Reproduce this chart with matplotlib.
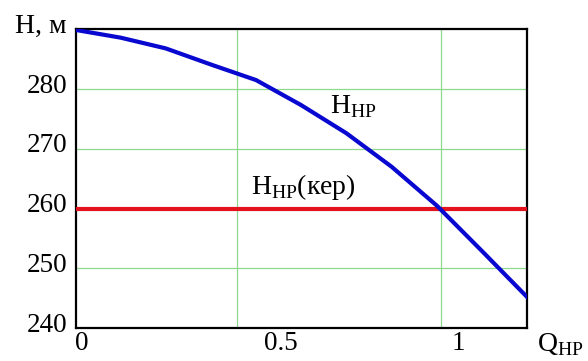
import matplotlib
matplotlib.use("Agg")
import matplotlib.pyplot as plt
import matplotlib.transforms as mtransforms

plt.rcParams['font.family'] = ['Liberation Serif', 'DejaVu Serif']
plt.rcParams['mathtext.fontset'] = 'custom'
plt.rcParams['mathtext.rm'] = 'Liberation Serif'

# Data
q_values = [0.0, 0.12, 0.24, 0.36, 0.48, 0.60, 0.72, 0.84, 0.96, 1.08, 1.2]
h_np = [289.9, 288.6, 286.8, 284.1, 281.5, 277.3, 272.6, 267.0, 260.5, 252.9, 245.2]
h_crit = 260
x_ticks = [0, 0.5, 1]
y_ticks = [240, 250, 260, 270, 280]
grid_x = [0.429, 0.972]
grid_y = [250, 260, 270, 280]

fig = plt.figure(figsize=(5.88, 3.61), dpi=100)
ax = fig.add_axes([75.5/588, 1-328/361, (527-75.5)/588, (328-29.3)/361])

gcol = '#8fd98f'
for gx in grid_x:
    ax.axvline(gx, color=gcol, lw=0.9, zorder=1)
for gy in grid_y:
    ax.axhline(gy, color=gcol, lw=0.9, zorder=1)

ax.plot([0, 1.2], [h_crit, h_crit], color='#e3121c', lw=3, zorder=3, solid_capstyle='butt')
ax.plot(q_values, h_np, color='#0808d0', lw=3, zorder=4)

ax.set_xlim(0, 1.2)
ax.set_ylim(240, 290)
ax.set_xticks(x_ticks)
ax.set_xticklabels(['0', '0.5', '1'])
ax.set_yticks(y_ticks)
ax.tick_params(axis='y', length=0, labelsize=19.5, pad=6)
ax.tick_params(axis='x', length=0, labelsize=19.5, pad=2.5)
dy_up = mtransforms.ScaledTranslation(0, 6/100, fig.dpi_scale_trans)
for lbl in ax.get_yticklabels():
    lbl.set_transform(lbl.get_transform() + dy_up)
for lbl in ax.get_xticklabels():
    lbl.set_horizontalalignment('left')
for s in ax.spines.values():
    s.set_linewidth(1.6)
    s.set_color('black')

ax.text(0.676, 276.0, r'H$_{\mathrm{HP}}$', fontsize=20, ha='left', va='baseline')
ax.text(0.467, 262.5, r'H$_{\mathrm{HP}}$(кер)', fontsize=20, ha='left', va='baseline')
fig.text(15/588, 1-26/361, 'H, м', fontsize=20, ha='left', va='center')
fig.text(537/588, 1-345/361, r'Q$_{\mathrm{HP}}$', fontsize=20, ha='left', va='center')

fig.savefig('out.png', dpi=100)
